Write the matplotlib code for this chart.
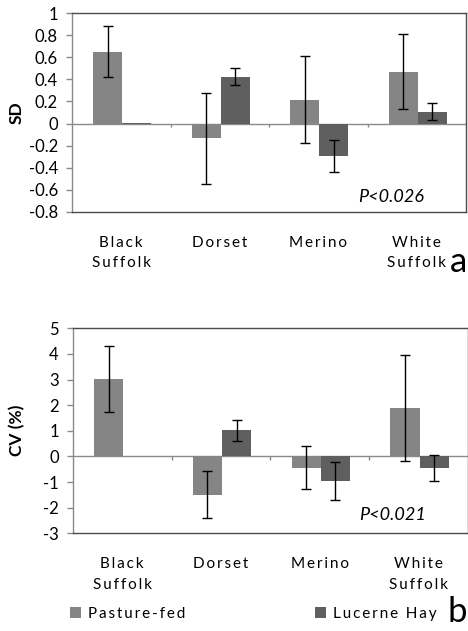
import matplotlib
matplotlib.use("Agg")
import matplotlib.pyplot as plt
import numpy as np
from matplotlib.patches import Patch

plt.rcParams['font.family'] = ['Lato', 'DejaVu Sans']

breeds = ["Black\nSuffolk", "Dorset", "Merino", "White\nSuffolk"]
series = ["Pasture-fed", "Lucerne Hay"]

sd_pasture = [0.65, -0.133, 0.217, 0.47]
sd_pasture_err = [0.23, 0.41, 0.39, 0.34]
sd_lucerne = [0.005, 0.425, -0.296, 0.109]
sd_lucerne_err = [0.0, 0.08, 0.145, 0.08]

cv_pasture = [3.02, -1.50, -0.44, 1.89]
cv_pasture_err = [1.30, 0.92, 0.83, 2.06]
cv_lucerne = [0.03, 1.03, -0.96, -0.44]
cv_lucerne_err = [0.0, 0.41, 0.75, 0.51]

sd_ticks = [1, 0.8, 0.6, 0.4, 0.2, 0, -0.2, -0.4, -0.6, -0.8]
cv_ticks = [5, 4, 3, 2, 1, 0, -1, -2, -3]

C_PAST = "#858585"
C_LUC = "#5f5f5f"
AX_GRAY = "#8a8a8a"
BOX = "#4a4a4a"

W, H = 468, 631
fig = plt.figure(figsize=(W / 100, H / 100), dpi=100)


def spaced(s, sp="\u2009"):
    return "\n".join(sp.join(list(line)) for line in s.split("\n"))


def panel(rect, pv, pe, lv, le, ticks, ylabel, ptext, ptext_pos, ylab_x, zero_tick):
    ax = fig.add_axes(rect)
    x = np.arange(len(breeds))
    w = 0.295
    ekw = dict(ecolor="black", elinewidth=1.0, capsize=3.5, capthick=1.0)
    ax.bar(x - w / 2 + 0.01, pv, w, color=C_PAST, yerr=pe, error_kw=ekw, zorder=2)
    lerr = [e if e > 0 else np.nan for e in le]
    ax.bar(x + w / 2 + 0.01, lv, w, color=C_LUC, zorder=2)
    ax.errorbar(x + w / 2 + 0.01, lv, yerr=lerr, fmt="none", zorder=3, **ekw)
    ax.axhline(0, color=AX_GRAY, lw=1.0, zorder=1)
    ax.vlines(x[:-1] + 0.5, 0, -zero_tick, color=AX_GRAY, lw=1.0, zorder=1)
    ax.set_xlim(-0.5, len(breeds) - 0.5)
    ax.set_ylim(min(ticks), max(ticks))
    ax.set_yticks(ticks)
    ax.set_yticklabels([f"{t:g}" for t in ticks])
    ax.tick_params(axis="y", length=4, width=1, color=AX_GRAY, pad=6, labelsize=12)
    ax.set_xticks(x)
    ax.set_xticklabels([spaced(b) for b in breeds], linespacing=1.6, fontsize=11)
    ax.tick_params(axis="x", length=0, pad=17)
    for s in ["top", "right", "bottom"]:
        ax.spines[s].set_color(BOX)
        ax.spines[s].set_linewidth(1.0)
    ax.spines["left"].set_color(AX_GRAY)
    ax.spines["left"].set_linewidth(1.0)
    ax.set_ylabel(ylabel, fontsize=12.5, fontweight="bold")
    ax.yaxis.set_label_coords(ylab_x, 0.5)
    ax.text(ptext_pos[0], ptext_pos[1], ptext, transform=ax.transAxes,
            fontsize=13, style="italic", ha="center", va="center")
    return ax


ax1 = panel([72 / W, 1 - 212 / H, 394 / W, 199 / H], sd_pasture, sd_pasture_err,
            sd_lucerne, sd_lucerne_err, sd_ticks, "SD", "P<0.026", (0.81, 0.075), -0.119, 0.03)
ax2 = panel([72.7 / W, 1 - 533.3 / H, 395.3 / W, 205 / H], cv_pasture, cv_pasture_err,
            cv_lucerne, cv_lucerne_err, cv_ticks, "CV (%)", "P<0.021", (0.81, 0.089), -0.121, 0.15)

fig.text(467 / W, 1 - 262 / H, "a", fontsize=25, ha="right", va="center")
fig.text(467 / W, 1 - 612 / H, "b", fontsize=25, ha="right", va="center")

for name, col, xpos in [(series[0], C_PAST, 70), (series[1], C_LUC, 315)]:
    fig.legend(handles=[Patch(facecolor=col, edgecolor="none", label=spaced(name))],
               loc="center left", bbox_to_anchor=(xpos / W, 1 - 614 / H), frameon=False,
               borderpad=0, borderaxespad=0, handlelength=0.7, handleheight=0.7,
               handletextpad=0.45, fontsize=11)

fig.savefig("out.png", dpi=100)
